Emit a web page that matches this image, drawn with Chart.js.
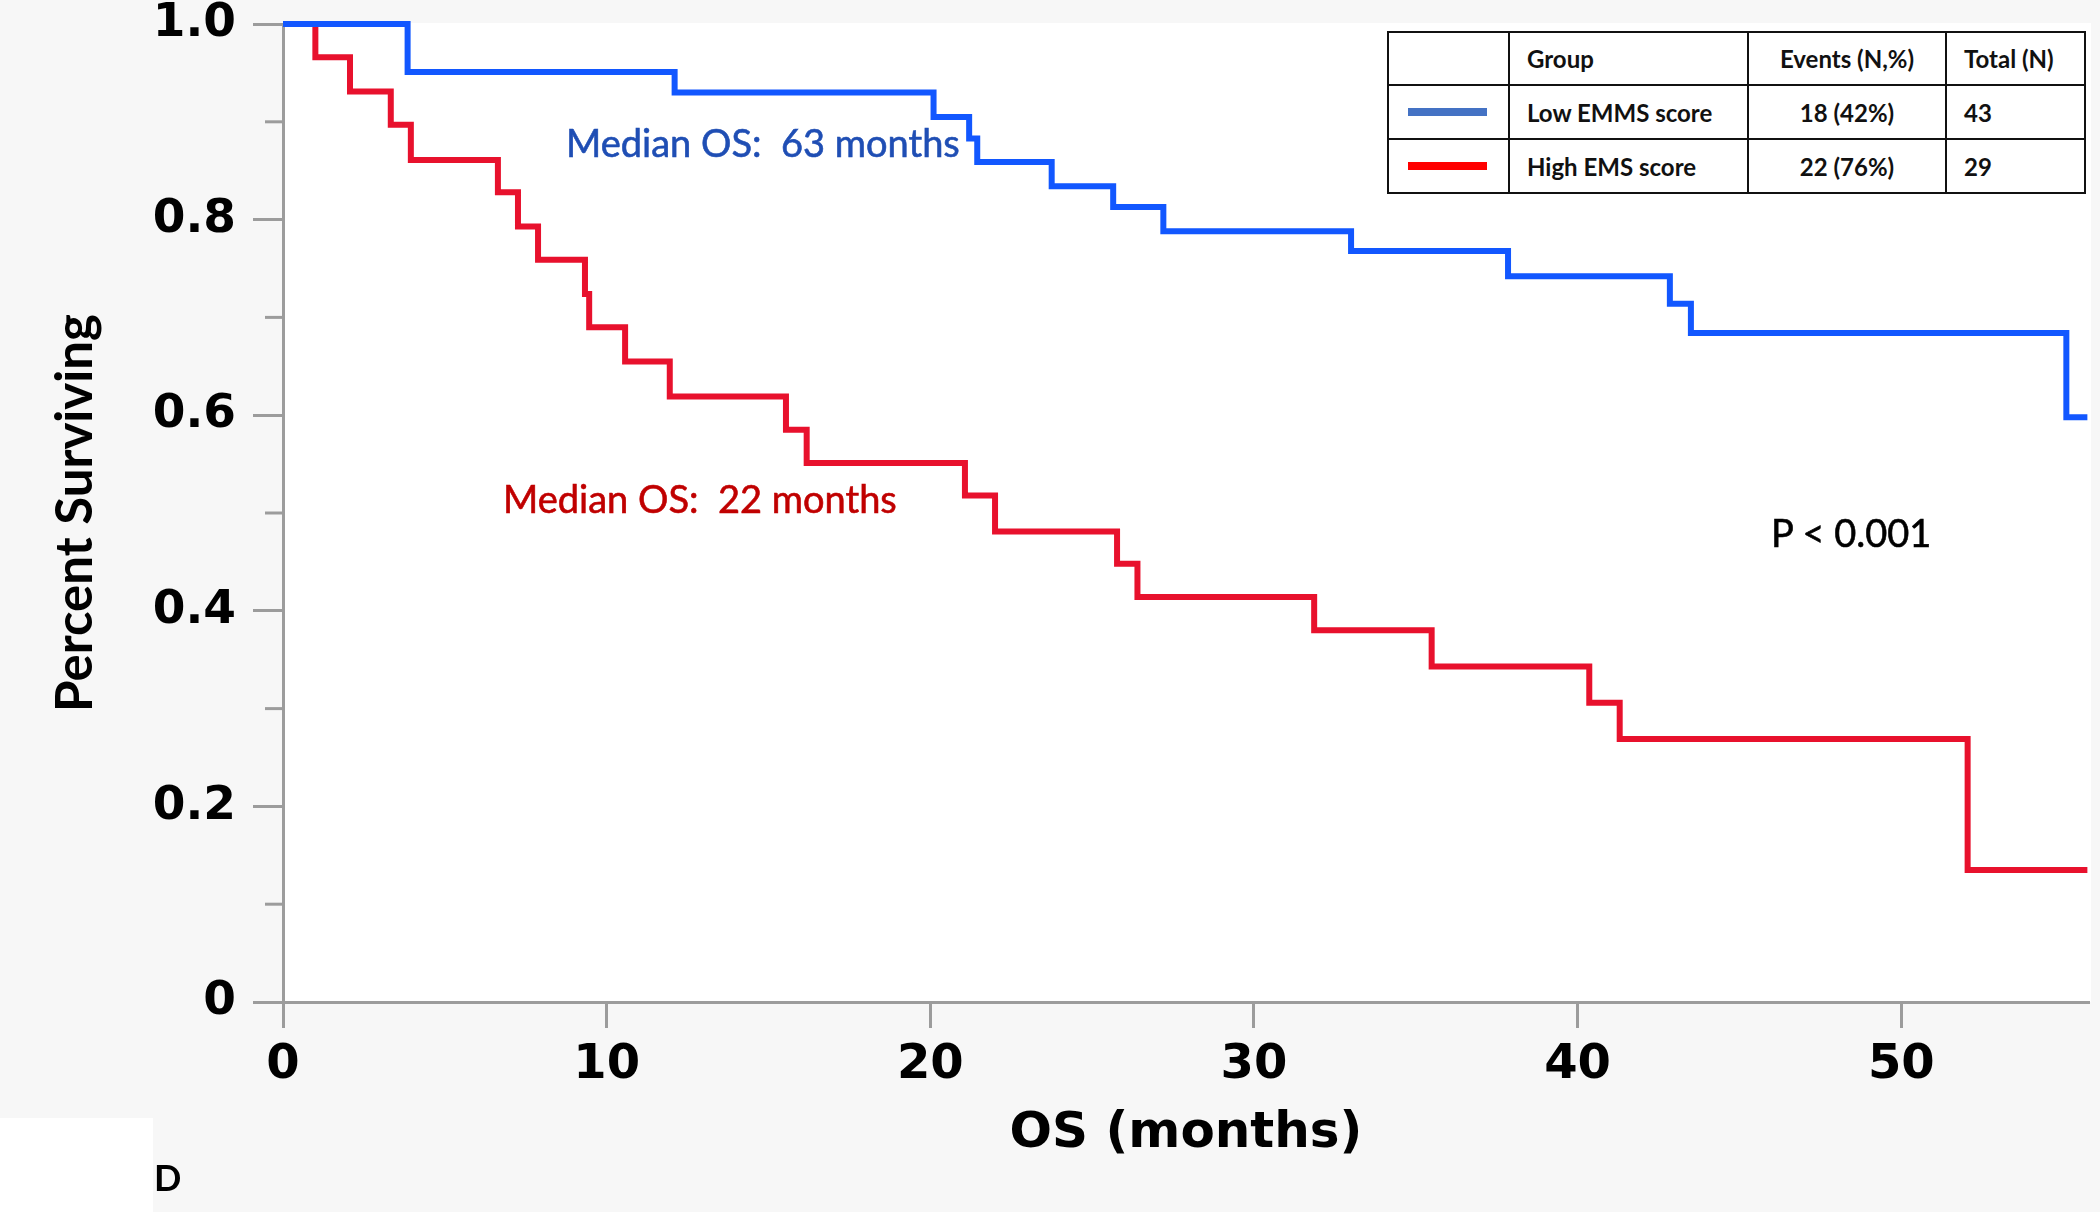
<!DOCTYPE html>
<html>
<head>
<meta charset="utf-8">
<script src="https://cdn.jsdelivr.net/npm/chart.js@4.4.1/dist/chart.umd.min.js"></script>
<style>
  html, body { margin: 0; padding: 0; background: #f7f7f7; }
  #wrap { position: relative; width: 2100px; height: 1212px; overflow: hidden; }
  canvas { position: absolute; left: 0; top: 0; }
  .ann { position: absolute; font-family: Lato, "Open Sans", sans-serif; font-size: 38px; line-height: 1; white-space: pre; -webkit-text-stroke: 0.6px currentColor; }
  #legendTable { position: absolute; left: 1387px; top: 31px; border-collapse: collapse; background: #fff;
    font-family: Lato, "Open Sans", sans-serif; font-weight: 700; font-size: 24px; color: #111; }
  #legendTable td { border: 2px solid #111; padding: 0 0 0 17px; height: 50px; box-sizing: border-box; }
  #legendTable td.c { text-align: center; padding: 0; }
  .sw { display: block; width: 79px; height: 8px; margin-left: 2px; }
  #whitebox { position: absolute; left: 0; top: 1118px; width: 153px; height: 94px; background: #fff; }
  #panel { position: absolute; left: 154px; top: 1159px; font-family: Lato, sans-serif; font-weight: 700; font-size: 36px; line-height: 1; color: #000; }
</style>
</head>
<body>
<div id="wrap">
  <canvas id="c" width="2100" height="1212"></canvas>
  <div class="ann" id="annBlue" style="left:566px; top:123px; color:#1F4EB4;"></div>
  <div class="ann" id="annRed" style="left:503px; top:479px; color:#C00000;"></div>
  <div class="ann" id="annP" style="left:1771px; top:513px; color:#000;"></div>
  <table id="legendTable"></table>
  <div id="whitebox"></div>
  <div id="panel">D</div>
</div>
<script>
// ---- Data ----
const lowMonths  = [0, 3.85, 12.1, 20.1, 21.2, 21.45, 23.75, 25.65, 27.2, 33.0, 37.85, 42.85, 43.5, 55.1, 55.75];
const lowSurv    = [1.0, 0.951, 0.930, 0.905, 0.883, 0.859, 0.834, 0.813, 0.788, 0.768, 0.742, 0.714, 0.684, 0.598, 0.598];
const highMonths = [0, 1.0, 2.07, 3.33, 3.95, 6.64, 7.26, 7.88, 9.33, 9.46, 10.57, 11.95, 15.54, 16.18, 21.07, 22.0, 25.77, 26.4, 31.86, 35.49, 40.36, 41.3, 52.05, 55.75];
const highSurv   = [1.0, 0.966, 0.931, 0.897, 0.861, 0.828, 0.793, 0.759, 0.724, 0.690, 0.655, 0.619, 0.585, 0.551, 0.518, 0.481, 0.448, 0.414, 0.380, 0.343, 0.306, 0.269, 0.135, 0.135];
const groupNames = ["Low EMMS score", "High EMS score"];
const groupEvents = ["18 (42%)", "22 (76%)"];
const groupTotals = ["43", "29"];
const tableHeader = ["", "Group", "Events (N,%)", "Total (N)"];
const xTickValues = [0, 10, 20, 30, 40, 50];
const medianLabels = ["Median OS:  63 months", "Median OS:  22 months"];
const pValueLabel = "P < 0.001";

// ---- Styles ----
const lineColors = ["#1257FF", "#E8112D"];
const swatchColors = ["#4472C4", "#FF0000"];
const axisGray = "#9c9c9c";

document.getElementById('annBlue').textContent = medianLabels[0];
document.getElementById('annRed').textContent = medianLabels[1];
document.getElementById('annP').textContent = pValueLabel;

// legend table
(function buildTable(){
  const t = document.getElementById('legendTable');
  const widths = [121, 239, 198, 139];
  const heights = [53, 54, 54];
  let tr = document.createElement('tr');
  tableHeader.forEach((h, i) => {
    const td = document.createElement('td');
    td.textContent = h; td.style.width = widths[i] + 'px'; td.style.height = heights[0] + 'px';
    if (i === 2) td.className = 'c';
    tr.appendChild(td);
  });
  t.appendChild(tr);
  groupNames.forEach((g, r) => {
    const row = document.createElement('tr');
    const c0 = document.createElement('td'); c0.style.height = heights[r+1] + 'px';
    const sw = document.createElement('span'); sw.className = 'sw'; sw.style.background = swatchColors[r];
    c0.appendChild(sw); row.appendChild(c0);
    const c1 = document.createElement('td'); c1.textContent = g; row.appendChild(c1);
    const c2 = document.createElement('td'); c2.textContent = groupEvents[r]; c2.className = 'c'; row.appendChild(c2);
    const c3 = document.createElement('td'); c3.textContent = groupTotals[r]; row.appendChild(c3);
    t.appendChild(row);
  });
})();

const toPts = (xs, ys) => xs.map((x, i) => ({x: x, y: ys[i]}));

const bgPlugin = {
  id: 'bg',
  beforeDraw(chart) {
    const {ctx, chartArea: a} = chart;
    ctx.save();
    ctx.fillStyle = '#f7f7f7';
    ctx.fillRect(0, 0, chart.width, chart.height);
    ctx.fillStyle = '#ffffff';
    ctx.fillRect(a.left, a.top - 1, a.right - a.left + 2, a.bottom - a.top + 1);
    ctx.restore();
  }
};
const minorTicks = {
  id: 'minorTicks',
  afterDraw(chart) {
    const y = chart.scales.y, ctx = chart.ctx, left = chart.chartArea.left;
    ctx.save();
    ctx.strokeStyle = axisGray; ctx.lineWidth = 3;
    y.ticks.forEach(t => {
      const k = Math.round(t.value * 10);
      if (k % 2 === 1) {
        const py = y.getPixelForValue(t.value);
        ctx.beginPath(); ctx.moveTo(left - 18, py); ctx.lineTo(left, py); ctx.stroke();
      }
    });
    ctx.restore();
  }
};

new Chart(document.getElementById('c'), {
  type: 'line',
  data: {
    datasets: [
      { label: groupNames[0], data: toPts(lowMonths, lowSurv), borderColor: lineColors[0], borderWidth: 6,
        stepped: 'before', pointRadius: 0, fill: false, clip: false },
      { label: groupNames[1], data: toPts(highMonths, highSurv), borderColor: lineColors[1], borderWidth: 6,
        stepped: 'before', pointRadius: 0, fill: false, clip: false }
    ]
  },
  options: {
    responsive: false,
    animation: false,
    devicePixelRatio: 1,
    layout: { padding: { top: 24, right: 11, left: 0, bottom: 0 } },
    plugins: { legend: { display: false }, tooltip: { enabled: false } },
    scales: {
      x: {
        type: 'linear', min: 0, max: 55.8,
        afterBuildTicks: s => { s.ticks = xTickValues.map(v => ({value: v})); },
        afterFit: s => { s.height = 210; s.paddingLeft = 0; s.paddingRight = 0; },
        ticks: { stepSize: 10, includeBounds: false, color: '#000', padding: 9,
          font: { family: 'DejaVu Sans', weight: 'bold', size: 48 } },
        grid: { drawOnChartArea: false, tickLength: 26, tickColor: axisGray, tickWidth: 3 },
        border: { color: axisGray, width: 3 },
        title: { display: true, text: 'OS (months)', color: '#000',
          font: { family: 'DejaVu Sans', weight: 'bold', size: 50 }, padding: { top: 0, bottom: 48 } }
      },
      y: {
        type: 'linear', min: 0, max: 1,
        afterFit: s => { s.width = 283; s.paddingTop = 0; s.paddingBottom = 0; },
        ticks: { stepSize: 0.1, color: '#000', padding: 17,
          font: { family: 'DejaVu Sans', weight: 'bold', size: 47 },
          callback: v => { const k = Math.round(v * 10); if (k % 2) return ''; if (k === 0) return '0'; return (k / 10).toFixed(1); } },
        grid: { drawOnChartArea: false, tickLength: 30, tickWidth: 3,
          tickColor: c => (Math.round(c.tick.value * 10) % 2 === 0 ? axisGray : 'rgba(0,0,0,0)') },
        border: { color: axisGray, width: 3 },
        title: { display: true, text: 'Percent Surviving', color: '#000',
          font: { family: 'Lato', weight: 'bold', size: 51 }, padding: { top: 45, bottom: 0 } }
      }
    }
  },
  plugins: [bgPlugin, minorTicks]
});
</script>
</body>
</html>
